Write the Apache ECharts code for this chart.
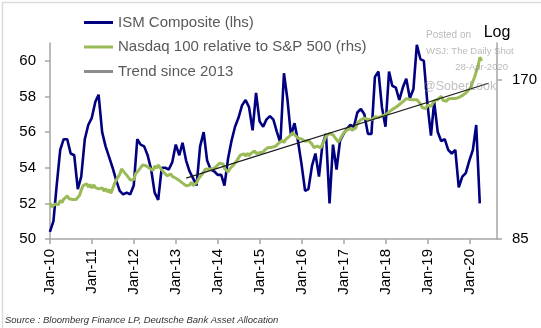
<!DOCTYPE html>
<html>
<head>
<meta charset="utf-8">
<script src="https://cdn.jsdelivr.net/npm/echarts@6/dist/echarts.min.js"></script>
<style>
  html, body { margin: 0; padding: 0; background: #ffffff; }
  #chart { width: 541px; height: 328px; }
</style>
</head>
<body>
<div id="chart"></div>
<script>
// ISM Composite, monthly, first value is Dec-2009 (plotted at month end)
const ismFirstYear = 2009;
const ismFirstMonth = 12;
const ismValues = [
  50.4, 51.0, 53.0, 55.0, 55.6, 55.6, 54.8, 54.7, 52.8, 53.5, 55.6, 56.4,
  56.8, 57.7, 58.1, 56.0, 55.2, 54.6, 54.0, 53.3, 52.7, 52.5, 52.6, 52.5,
  53.0, 55.6, 55.3, 55.2, 54.7, 53.9, 52.6, 52.2, 54.0, 54.0, 53.9, 54.3,
  55.3, 54.7, 55.4, 54.4, 53.8, 53.4, 53.0, 55.2, 56.0, 54.4, 53.9, 53.8,
  53.6, 53.6, 53.0, 54.5, 55.5, 56.3, 56.8, 57.5, 57.8, 57.4, 56.1, 58.2,
  56.6, 56.3, 56.7, 56.9, 56.7, 56.0, 55.4, 59.3, 57.8, 55.8, 56.5, 55.5,
  54.2, 52.7, 52.8, 54.1, 54.8, 53.5, 55.3, 55.9, 52.0, 55.3, 53.9, 55.5,
  55.9, 56.2, 56.4, 56.3, 57.1, 57.3, 57.0, 55.9, 55.9, 59.1, 59.4, 57.4,
  56.3, 59.4, 58.6, 58.5, 57.8, 58.5, 59.0, 57.9, 58.4, 60.9, 60.1, 60.0,
  57.6, 55.8, 57.7, 56.0, 55.5, 55.6, 55.0, 54.8, 55.0, 52.9, 53.5, 53.7,
  54.4, 55.0, 56.4, 52.0
];

// Nasdaq 100 relative to S&P 500, sampled on the 1st and 16th of each month from Jan-2010
const nasdaqFirstYear = 2010;
const nasdaqValues = [
  // 2010
  99.5, 97.8, 97.3, 99.0, 99.6, 98.8, 100.6, 99.7, 101.2, 100.6, 102.6, 101.3,
  101.9, 101.0, 101.8, 101.0, 102.0, 102.9, 105.4, 107.3, 106.4, 108.2, 106.6, 107.8,
  // 2011
  106.2, 107.6, 106.4, 106.5, 105.8, 105.6, 106.2, 104.8, 105.9, 104.4, 105.4, 103.8,
  105.9, 108.2, 110.0, 110.6, 112.8, 115.4, 114.6, 113.3, 112.2, 111.6, 110.0, 109.6,
  // 2012
  110.2, 113.0, 113.2, 115.0, 115.4, 117.4, 118.2, 117.0, 117.2, 115.8, 116.0, 114.6,
  116.9, 115.8, 117.4, 116.0, 115.8, 113.9, 113.6, 112.0, 111.8, 112.9, 111.7, 112.4,
  // 2013
  110.8, 111.3, 109.7, 109.8, 108.5, 108.3, 107.2, 107.4, 107.6, 108.9, 107.3, 108.2,
  108.7, 110.5, 110.6, 112.6, 113.2, 115.3, 115.3, 115.4, 115.2, 115.4, 115.5, 116.5,
  // 2014
  116.9, 118.3, 119.0, 117.9, 115.6, 115.3, 113.9, 115.5, 116.1, 117.3, 118.3, 119.7,
  120.5, 122.6, 121.7, 123.3, 122.1, 123.5, 122.2, 123.5, 123.7, 124.9, 123.5, 123.9,
  // 2015
  123.9, 123.8, 124.3, 125.5, 125.5, 126.7, 126.6, 126.8, 127.3, 127.4, 127.9, 129.2,
  129.0, 130.7, 129.5, 131.3, 131.3, 133.1, 133.3, 135.2, 133.9, 134.7, 132.0, 131.4,
  // 2016
  131.5, 132.3, 130.2, 129.6, 130.7, 129.6, 128.6, 126.7, 127.0, 127.5, 127.9, 126.5,
  128.8, 130.5, 133.3, 134.3, 134.7, 133.7, 133.9, 132.5, 131.9, 129.8, 131.5, 132.0,
  // 2017
  135.2, 135.9, 136.9, 136.9, 137.9, 136.7, 136.6, 138.0, 141.1, 141.7, 143.1, 143.1,
  144.1, 143.1, 143.3, 143.3, 143.1, 143.3, 144.9, 144.7, 144.5, 143.7, 145.3, 145.3,
  // 2018
  146.3, 146.9, 148.1, 148.3, 149.7, 149.9, 151.1, 151.1, 152.9, 153.1, 154.9, 155.5,
  156.9, 156.6, 156.3, 156.1, 156.1, 156.1, 156.1, 154.7, 153.3, 150.9, 151.3, 150.2,
  // 2019
  152.5, 152.5, 151.7, 152.3, 155.5, 155.3, 156.3, 156.9, 158.5, 155.7, 154.5, 155.1,
  156.7, 156.5, 156.9, 156.7, 156.9, 156.1, 157.7, 157.9, 159.1, 159.1, 160.7, 161.5,
  // 2020
  163.6, 165.2, 169.3, 172.6, 176.9, 180.6, 188.0, 185.0
];

// Log-linear trend fitted from 2013
const trendDates = ['2013-04-01', '2020-06-15'];
const trendValues = [110.9, 167.8];

// Axis ticks
const yearTickDates = ['2010-01-01', '2011-01-01', '2012-01-01', '2013-01-01', '2014-01-01',
  '2015-01-01', '2016-01-01', '2017-01-01', '2018-01-01', '2019-01-01', '2020-01-01'];
const leftTicks = [50, 52, 54, 56, 58, 60];
const rightTicks = [85, 170];

const FONT = '"Liberation Sans", Arial, Helvetica, sans-serif';

function parseDay(s) {
  const p = s.split('-').map(Number);
  return new Date(p[0], p[1] - 1, p[2]).getTime();
}

const ismData = ismValues.map(function (v, i) {
  // last day of the month
  const d = new Date(ismFirstYear, ismFirstMonth - 1 + i + 1, 0);
  return [d.getTime(), v];
});

const nasdaqData = nasdaqValues.map(function (v, k) {
  const y = nasdaqFirstYear + Math.floor(k / 24);
  const m = Math.floor((k % 24) / 2);
  const day = (k % 2) ? 16 : 1;
  return [new Date(y, m, day).getTime(), v];
});

const trendData = trendDates.map(function (d, i) { return [parseDay(d), trendValues[i]]; });
const yearTicks = yearTickDates.map(parseDay);

const axisGray = '#a6a6a6';

const chart = echarts.init(document.getElementById('chart'), null, { renderer: 'canvas' });

chart.setOption({
  animation: false,
  backgroundColor: '#ffffff',
  textStyle: { fontFamily: FONT },
  grid: { left: 50, right: 44, top: 43, bottom: 89, containLabel: false, outerBoundsMode: 'none' },
  legend: {
    orient: 'vertical',
    left: 79,
    top: 10,
    itemGap: 9.5,
    itemWidth: 29,
    itemHeight: 3,
    icon: 'rect',
    selectedMode: false,
    textStyle: { fontSize: 15, color: '#595959', fontFamily: FONT },
    data: [
      { name: 'ISM Composite (lhs)', itemStyle: { color: '#000080' } },
      { name: 'Nasdaq 100 relative to S&P 500 (rhs)', itemStyle: { color: '#9bbb59' } },
      { name: 'Trend since 2013', itemStyle: { color: '#8c8c8c' } }
    ]
  },
  xAxis: {
    // timestamps on a plain value axis so the yearly ticks can be placed exactly
    type: 'value',
    min: parseDay('2010-01-01'),
    max: parseDay('2020-08-28'),
    axisLine: { show: true, onZero: false, lineStyle: { color: axisGray, width: 1.5 } },
    axisTick: { show: true, length: 5, customValues: yearTicks, lineStyle: { color: axisGray, width: 1.5 } },
    splitLine: { show: false },
    axisLabel: {
      customValues: yearTicks,
      rotate: 90,
      margin: 10,
      fontSize: 15,
      color: '#000000',
      fontFamily: FONT,
      formatter: function (val) {
        const y = new Date(val).getFullYear() % 100;
        return 'Jan-' + (y < 10 ? '0' + y : '' + y);
      }
    }
  },
  yAxis: [
    {
      type: 'value',
      min: 50,
      max: 61,
      position: 'left',
      axisLine: { show: true, lineStyle: { color: axisGray, width: 1.5 } },
      axisTick: { show: true, length: 5, customValues: leftTicks, lineStyle: { color: axisGray, width: 1.5 } },
      splitLine: { show: false },
      axisLabel: { customValues: leftTicks, margin: 14, fontSize: 15, color: '#000000', fontFamily: FONT }
    },
    {
      type: 'log',
      logBase: 10,
      min: 85,
      max: 200,
      position: 'right',
      name: 'Log',
      nameLocation: 'end',
      nameGap: 2,
      nameTextStyle: { fontSize: 16, color: '#000000', fontFamily: FONT, align: 'center' },
      axisLine: { show: true, lineStyle: { color: axisGray, width: 1.5 } },
      axisTick: { show: true, length: 5, customValues: rightTicks, lineStyle: { color: axisGray, width: 1.5 } },
      splitLine: { show: false },
      axisLabel: { customValues: rightTicks, margin: 15, fontSize: 15, color: '#000000', fontFamily: FONT }
    }
  ],
  series: [
    {
      name: 'ISM Composite (lhs)',
      type: 'line',
      yAxisIndex: 0,
      data: ismData,
      showSymbol: false,
      symbol: 'none',
      lineStyle: { color: '#000080', width: 2.6 },
      itemStyle: { color: '#000080' },
      z: 2
    },
    {
      name: 'Nasdaq 100 relative to S&P 500 (rhs)',
      type: 'line',
      yAxisIndex: 1,
      data: nasdaqData,
      showSymbol: false,
      symbol: 'none',
      lineStyle: { color: '#9bbb59', width: 3 },
      itemStyle: { color: '#9bbb59' },
      z: 3
    },
    {
      name: 'Trend since 2013',
      type: 'line',
      yAxisIndex: 1,
      data: trendData,
      showSymbol: false,
      symbol: 'none',
      lineStyle: { color: '#1a1a1a', width: 1.2 },
      itemStyle: { color: '#8c8c8c' },
      z: 4
    }
  ],
  graphic: [
    {
      type: 'rect',
      left: 0, top: 0,
      shape: { x: 0.5, y: 0.5, width: 540, height: 327 },
      style: { fill: 'none', stroke: '#dcdcdc', lineWidth: 1.5 },
      silent: true, z: 0
    },
    {
      type: 'text', x: 426, y: 35,
      style: { text: 'Posted on', fill: 'rgba(140,140,140,0.6)', font: '10px ' + FONT, verticalAlign: 'middle' },
      silent: true, z: 10
    },
    {
      type: 'text', x: 426, y: 51,
      style: { text: 'WSJ: The Daily Shot', fill: 'rgba(140,140,140,0.6)', font: '9.5px ' + FONT, verticalAlign: 'middle' },
      silent: true, z: 10
    },
    {
      type: 'text', x: 508, y: 67,
      style: { text: '28-Apr-2020', fill: 'rgba(140,140,140,0.6)', font: '9.5px ' + FONT, align: 'right', verticalAlign: 'middle' },
      silent: true, z: 10
    },
    {
      type: 'text', x: 423, y: 87,
      style: { text: '@SoberLook', fill: 'rgba(140,140,140,0.55)', font: '12.5px ' + FONT, verticalAlign: 'middle' },
      silent: true, z: 10
    },
    {
      type: 'text', x: 5, y: 320,
      style: { text: 'Source : Bloomberg Finance LP, Deutsche Bank Asset Allocation', fill: '#333333', font: 'italic 9.5px ' + FONT, verticalAlign: 'middle' },
      silent: true, z: 10
    }
  ]
});
</script>
</body>
</html>
